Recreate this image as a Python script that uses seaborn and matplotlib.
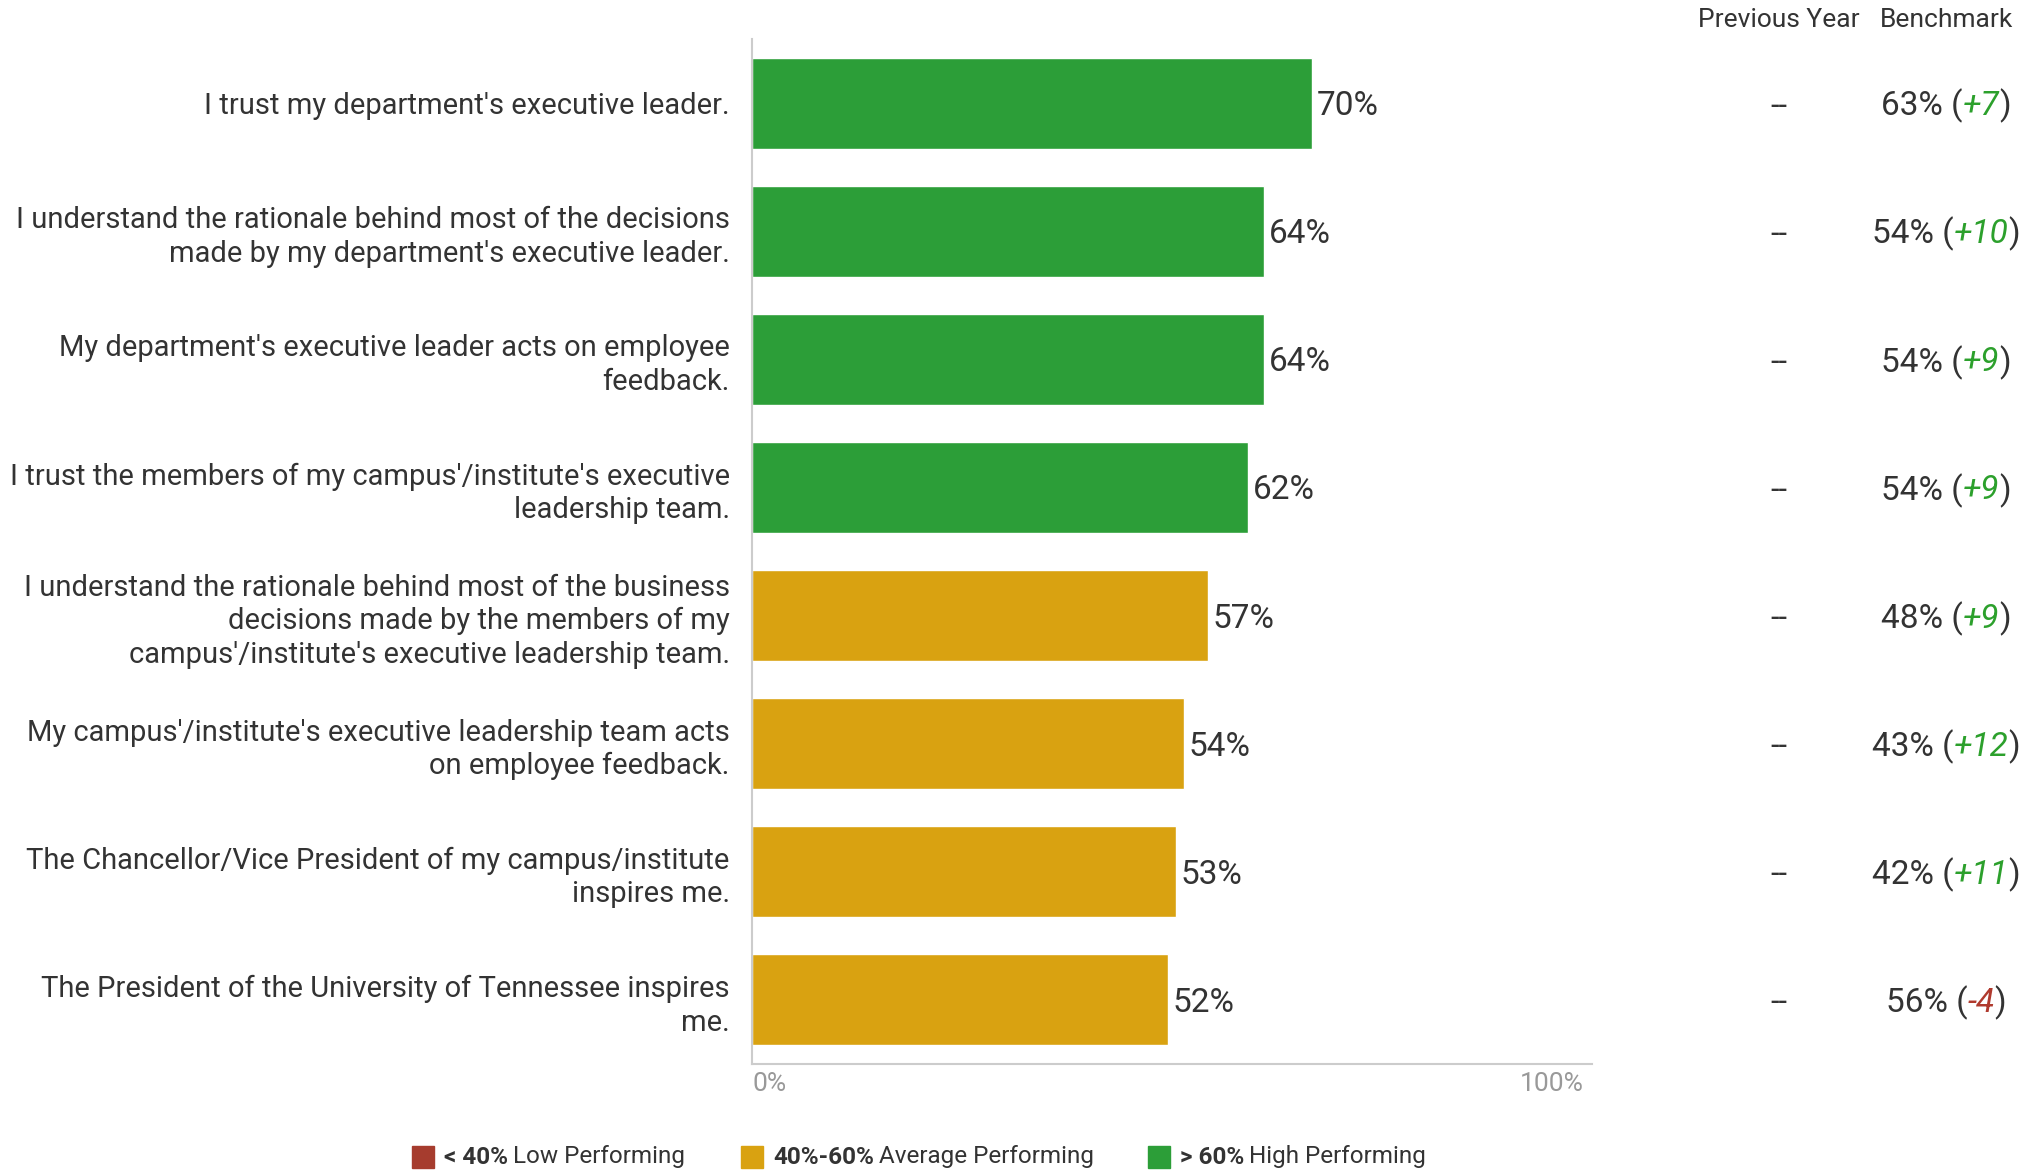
import matplotlib
matplotlib.use("Agg")
import matplotlib.pyplot as plt
import matplotlib.transforms as mtransforms
from matplotlib.patches import Rectangle
import seaborn as sns
import pandas as pd

# ---- data ----
statements = [
    "I trust my department's executive leader.",
    "I understand the rationale behind most of the decisions\nmade by my department's executive leader.",
    "My department's executive leader acts on employee\nfeedback.",
    "I trust the members of my campus'/institute's executive\nleadership team.",
    "I understand the rationale behind most of the business\ndecisions made by the members of my\ncampus'/institute's executive leadership team.",
    "My campus'/institute's executive leadership team acts\non employee feedback.",
    "The Chancellor/Vice President of my campus/institute\ninspires me.",
    "The President of the University of Tennessee inspires\nme.",
]
favorable = [70, 64, 64, 62, 57, 54, 53, 52]
previous_year = ["--", "--", "--", "--", "--", "--", "--", "--"]
benchmark = [63, 54, 54, 54, 48, 43, 42, 56]
benchmark_diff = [7, 10, 9, 9, 9, 12, 11, -4]

tiers = ["Low", "Average", "High"]
tier_colors = {"Low": "#a63c2e", "Average": "#d9a211", "High": "#2c9e38"}
legend_bold = ["< 40%", "40%-60%", "> 60%"]
legend_text = ["Low Performing", "Average Performing", "High Performing"]


def tier_of(v):
    if v < 40:
        return "Low"
    if v <= 60:
        return "Average"
    return "High"


df = pd.DataFrame({
    "statement": statements,
    "favorable": favorable,
    "tier": [tier_of(v) for v in favorable],
})

sns.set_theme(style="white")
plt.rcParams["font.family"] = ["Roboto", "DejaVu Sans"]

TEXT = "#333333"
W, H = 2032, 1171
fig = plt.figure(figsize=(W / 100, H / 100), dpi=100)
ax = fig.add_axes([752 / W, 1 - 1064 / H, (1592 - 752) / W, (1064 - 39) / H])

sns.barplot(data=df, x="favorable", y="statement", hue="tier",
            palette=tier_colors, dodge=False, legend=False, width=0.71,
            saturation=1, ax=ax, orient="h")

ax.set_xlim(0, 105)
ax.set_ylim(len(statements) - 0.5, -0.5)
ax.set_xlabel("")
ax.set_ylabel("")
for side in ["top", "right"]:
    ax.spines[side].set_visible(False)
for side in ["left", "bottom"]:
    ax.spines[side].set_visible(True)
    ax.spines[side].set_color("#cccccc")
    ax.spines[side].set_linewidth(1.5)

ax.set_xticks([0, 100])
ax.set_xticklabels(["0%", "100%"], fontsize=19, color="#999999")
ax.get_xticklabels()[0].set_horizontalalignment("left")
ax.tick_params(axis="x", length=0, pad=6)
ax.tick_params(axis="y", length=0, pad=16)
for lbl in ax.get_yticklabels():
    lbl.set_fontsize(21)
    lbl.set_color(TEXT)
    lbl.set_linespacing(1.25)

# value labels at bar ends
for i, v in enumerate(favorable):
    ax.annotate(f"{v}%", xy=(v, i), xytext=(5, -3), textcoords="offset pixels",
                ha="left", va="center", fontsize=24, color=TEXT)

# side columns
row_tf = mtransforms.blended_transform_factory(fig.transFigure, ax.transData)
row_tf = row_tf + mtransforms.ScaledTranslation(0, -3 / 100, fig.dpi_scale_trans)
prev_x = 1779 / W
bench_x = 1946 / W
fig.text(prev_x, 1 - 20 / H, "Previous Year", ha="center", va="center",
         fontsize=19, color=TEXT)
fig.text(bench_x, 1 - 20 / H, "Benchmark", ha="center", va="center",
         fontsize=19, color=TEXT)

fig.canvas.draw()
renderer = fig.canvas.get_renderer()


def width_fig(t):
    bb = t.get_window_extent(renderer=renderer)
    return bb.width / W


for i, (p, b, d) in enumerate(zip(previous_year, benchmark, benchmark_diff)):
    ax.text(prev_x, i, p, transform=row_tf, ha="center", va="center",
            fontsize=22, color=TEXT)
    # benchmark cell: "NN% (" + coloured italic difference + ")", centred
    dcol = "#2ca02c" if d >= 0 else "#b03a2e"
    parts = [(f"{b}% (", TEXT, "normal"), (f"{d:+d}", dcol, "italic"),
             (")", TEXT, "normal")]
    texts = [ax.text(0, i, s, transform=row_tf, ha="left", va="center",
                     fontsize=24, color=c, style=st) for s, c, st in parts]
    widths = [width_fig(t) for t in texts]
    x = bench_x - sum(widths) / 2
    for t, w in zip(texts, widths):
        t.set_x(x)
        x += w

# legend along the bottom
leg_y = 1 - 1157 / H
sq = 22
for key, bold, txt, sx in zip(tiers, legend_bold, legend_text, [412, 741, 1148]):
    fig.patches.append(Rectangle((sx / W, leg_y - sq / 2 / H), sq / W, sq / H,
                                 transform=fig.transFigure,
                                 color=tier_colors[key]))
    tx = (sx + sq + 10) / W
    t = fig.text(tx, leg_y, bold, ha="left", va="center", fontsize=17.5,
                 fontweight="bold", color=TEXT)
    tx += width_fig(t) + 5 / W
    fig.text(tx, leg_y, txt, ha="left", va="center", fontsize=17.5, color=TEXT)

fig.savefig("out.png", dpi=100, facecolor="white")
